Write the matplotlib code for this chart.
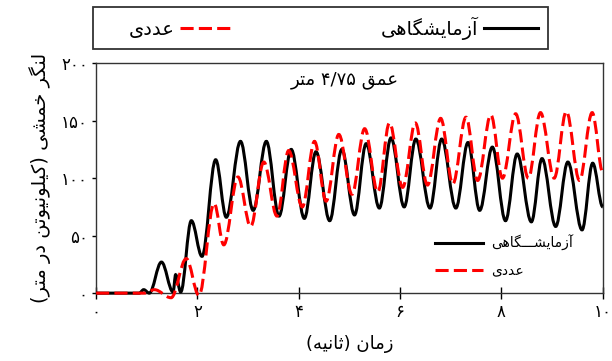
import re
import matplotlib
matplotlib.use("Agg")
import matplotlib.pyplot as plt
from matplotlib.path import Path
from matplotlib.patches import PathPatch, Rectangle
from matplotlib.lines import Line2D

# extrema of the measured series (time s, moment kN.m/m)
lab_t = [0, 0.85, 0.94, 1.05, 1.29, 1.52, 1.57, 1.67, 1.88, 2.09, 2.36, 2.57, 2.85, 3.10,
         3.36, 3.61, 3.85, 4.11, 4.34, 4.61, 4.85, 5.10, 5.33, 5.59, 5.82, 6.08, 6.31,
         6.59, 6.82, 7.10, 7.34, 7.57, 7.82, 8.08, 8.31, 8.59, 8.80, 9.07, 9.31, 9.59,
         9.80, 10.0]
lab_v = [0, 0, 3, 0, 27, 1, 16, 1, 63, 32, 116, 66, 132, 72,
         132, 67, 125, 65, 123, 63, 125, 68, 130, 74, 135, 75, 134,
         74, 134, 74, 131, 72, 127, 63, 121, 62, 117, 58, 114, 55,
         113, 75]

# extrema of the numerical series
num_t = [0, 0.95, 1.15, 1.48, 1.78, 2.03, 2.33, 2.52, 2.80, 3.05, 3.31, 3.57, 3.80,
         4.07, 4.31, 4.54, 4.79, 5.05, 5.30, 5.56, 5.79, 6.05, 6.30, 6.54, 6.80, 7.04,
         7.30, 7.53, 7.79, 8.02, 8.28, 8.53, 8.77, 9.04, 9.28, 9.54, 9.79, 10.0]
num_v = [0, 0, 3, -4, 30, -2, 78, 42, 101, 58, 114, 67, 124,
         75, 132, 80, 138, 86, 143, 88, 148, 92, 148, 94, 152, 95,
         153, 98, 155, 100, 156, 100, 157, 100, 158, 98, 157, 105]

x_ticks = [0, 2, 4, 6, 8, 10]
y_ticks = [0, 50, 100, 150, 200]

lab_name = "آزمایشگاهی"
lab_name_inner = "آزمایشـــگاهی"
num_name = "عددی"
title = "عمق ۴/۷۵ متر"
x_label = "زمان (ثانیه)"
y_label = "لنگر خمشی (کیلونیوتن در متر)"

# Arabic presentation forms: isolated, final, initial, medial
FORMS = {
    'آ': ('\uFE81', '\uFE82', None, None),
    'ا': ('\uFE8D', '\uFE8E', None, None),
    'ز': ('\uFEAF', '\uFEB0', None, None),
    'ر': ('\uFEAD', '\uFEAE', None, None),
    'د': ('\uFEA9', '\uFEAA', None, None),
    'و': ('\uFEED', '\uFEEE', None, None),
    'م': ('\uFEE1', '\uFEE2', '\uFEE3', '\uFEE4'),
    'ی': ('\uFBFC', '\uFBFD', '\uFBFE', '\uFBFF'),
    'ش': ('\uFEB5', '\uFEB6', '\uFEB7', '\uFEB8'),
    'گ': ('\uFB92', '\uFB93', '\uFB94', '\uFB95'),
    'ه': ('\uFEE9', '\uFEEA', '\uFEEB', '\uFEEC'),
    'ع': ('\uFEC9', '\uFECA', '\uFECB', '\uFECC'),
    'ن': ('\uFEE5', '\uFEE6', '\uFEE7', '\uFEE8'),
    'ث': ('\uFE99', '\uFE9A', '\uFE9B', '\uFE9C'),
    'ل': ('\uFEDD', '\uFEDE', '\uFEDF', '\uFEE0'),
    'ک': ('\uFB8E', '\uFB8F', '\uFB90', '\uFB91'),
    'ت': ('\uFE95', '\uFE96', '\uFE97', '\uFE98'),
    'خ': ('\uFEA5', '\uFEA6', '\uFEA7', '\uFEA8'),
    'ق': ('\uFED5', '\uFED6', '\uFED7', '\uFED8'),
}
TATWEEL = '\u0640'


def links_next(c):
    return c == TATWEEL or (c in FORMS and FORMS[c][2] is not None)


def links_prev(c):
    return c == TATWEEL or c in FORMS


def fa(text):
    # shape letters and put them in visual (left to right) order
    out = []
    for i, c in enumerate(text):
        if c not in FORMS:
            out.append(c)
            continue
        prev = text[i - 1] if i > 0 else None
        nxt = text[i + 1] if i + 1 < len(text) else None
        p = prev is not None and links_next(prev)
        n = nxt is not None and links_prev(nxt) and links_next(c)
        iso, fin, ini, med = FORMS[c]
        out.append(med if p and n else fin if p else ini if n else iso)
    tokens = re.findall(r'[۰-۹0-9/]+|[^۰-۹0-9/]+', ''.join(out))
    mirror = str.maketrans('()', ')(')
    vis = []
    for tok in reversed(tokens):
        if tok[0] in '۰۱۲۳۴۵۶۷۸۹0123456789':
            vis.append(tok)
        else:
            vis.append(tok[::-1].translate(mirror))
    return ''.join(vis)


def fa_digits(n):
    return str(n).translate(str.maketrans('0123456789', '۰۱۲۳۴۵۶۷۸۹'))


def wave_path(t, v, k=0.363):
    verts = [(t[0], v[0])]
    codes = [Path.MOVETO]
    for i in range(len(t) - 1):
        dt = t[i + 1] - t[i]
        verts += [(t[i] + k * dt, v[i]), (t[i + 1] - k * dt, v[i + 1]), (t[i + 1], v[i + 1])]
        codes += [Path.CURVE4] * 3
    return Path(verts, codes)


plt.rcParams['font.family'] = ['DejaVu Sans']

fig = plt.figure(figsize=(6.12, 3.61), dpi=100)
ax = fig.add_axes([0.157, 0.188, 0.828, 0.637])

red_dash = (0, (4.3, 1.7))
ax.add_patch(PathPatch(wave_path(lab_t, lab_v), facecolor='none', edgecolor='black',
                       lw=2.2, clip_on=False, zorder=3))
ax.add_patch(PathPatch(wave_path(num_t, num_v), facecolor='none', edgecolor='#ff0000',
                       lw=2.2, linestyle=red_dash, clip_on=False, zorder=4))

ax.set_xlim(0, 10)
ax.set_ylim(0, 200)
ax.set_xticks(x_ticks)
ax.set_xticklabels([fa_digits(x) for x in x_ticks])
ax.set_yticks(y_ticks)
ax.set_yticklabels([fa_digits(y) for y in y_ticks])
ax.tick_params(axis='x', direction='inout', length=8, width=1, labelsize=12, pad=3)
ax.tick_params(axis='y', direction='out', length=3, width=1, labelsize=12, pad=3)
for s in ax.spines.values():
    s.set_color('#333333')
    s.set_linewidth(1.0)

ax.set_xlabel(fa(x_label), fontsize=13, labelpad=10)
ax.set_ylabel(fa(y_label), fontsize=14, labelpad=7)
ax.text(0.49, 0.925, fa(title), transform=ax.transAxes, ha='center', va='center', fontsize=13)

lab_handle = Line2D([], [], color='black', lw=2.2)
num_handle = Line2D([], [], color='#ff0000', lw=2.2, linestyle=red_dash)

ax.legend([lab_handle, num_handle], [fa(lab_name_inner), fa(num_name)],
          loc='center', bbox_to_anchor=(0.805, 0.161), frameon=False, fontsize=10,
          handlelength=3.4, labelspacing=0.9, handletextpad=0.6)

fig.legend([num_handle, lab_handle], [fa(num_name), fa(lab_name)], loc='center',
           bbox_to_anchor=(0.545, 0.922), ncol=2, frameon=False, fontsize=14,
           markerfirst=False, handlelength=2.8, columnspacing=7.5, handletextpad=0.3)
fig.patches.append(Rectangle((0.152, 0.864), 0.743, 0.116, transform=fig.transFigure,
                             fill=False, edgecolor='#333333', lw=1.3))

fig.savefig('out.png', dpi=100)
